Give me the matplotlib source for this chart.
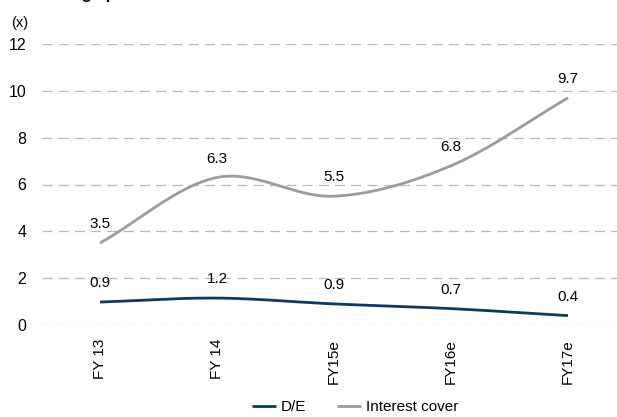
import numpy as np
import matplotlib
matplotlib.use("Agg")
import matplotlib.pyplot as plt

plt.rcParams['font.family'] = ['Liberation Sans Narrow', 'Liberation Sans', 'DejaVu Sans']

years = ["FY 13", "FY 14", "FY15e", "FY16e", "FY17e"]
debt_equity = [0.9, 1.2, 0.9, 0.7, 0.4]
interest_cover = [3.5, 6.3, 5.5, 6.8, 9.7]
# y positions where the curves are actually drawn (values are rounded in the labels)
debt_equity_line = [0.98, 1.15, 0.9, 0.7, 0.4]

NAVY = "#0c3768"
GREY = "#9c9c9c"


def smooth(y, n=40):
    """Catmull-Rom spline through evenly spaced points (like Excel's smoothed line)."""
    y = np.asarray(y, dtype=float)
    x = np.arange(len(y), dtype=float)
    px = np.concatenate([[2 * x[0] - x[1]], x, [2 * x[-1] - x[-2]]])
    py = np.concatenate([[2 * y[0] - y[1]], y, [2 * y[-1] - y[-2]]])
    xs, ys = [], []
    t = np.linspace(0, 1, n)
    for i in range(1, len(px) - 2):
        for p, out in ((px, xs), (py, ys)):
            p0, p1, p2, p3 = p[i - 1], p[i], p[i + 1], p[i + 2]
            seg = 0.5 * ((2 * p1) + (-p0 + p2) * t
                         + (2 * p0 - 5 * p1 + 4 * p2 - p3) * t ** 2
                         + (-p0 + 3 * p1 - 3 * p2 + p3) * t ** 3)
            out.append(seg if i == 1 else seg[1:])
    return np.concatenate(xs), np.concatenate(ys)


fig = plt.figure(figsize=(6.17, 4.17), dpi=100)
ax = fig.add_axes([41.5 / 617, 1 - 325 / 417, 585 / 617, 281 / 417])

x_de, y_de = smooth(debt_equity_line)
x_ic, y_ic = smooth(interest_cover)
ax.plot(x_de, y_de, color=NAVY, lw=2.0, label="D/E", solid_capstyle="butt")
ax.plot(x_ic, y_ic, color=GREY, lw=2.0, label="Interest cover", solid_capstyle="butt")

for i, v in enumerate(debt_equity):
    ax.annotate(f"{v:.1f}", (i, debt_equity_line[i]), xytext=(0, 13.5),
                textcoords="offset points", ha="center", va="center", fontsize=11)
for i, v in enumerate(interest_cover):
    ax.annotate(f"{v:.1f}", (i, v), xytext=(0, 13.5),
                textcoords="offset points", ha="center", va="center", fontsize=11)

ax.set_xlim(-0.5, 4.5)
ax.set_ylim(0, 12)
ax.set_yticks(range(0, 13, 2))
ax.set_xticks(range(len(years)))
ax.set_xticklabels(years, rotation=90, fontsize=11)
ax.tick_params(axis="y", labelsize=11.5, length=0, pad=11)
ax.tick_params(axis="x", length=0, pad=10)
ax.yaxis.grid(True, color="#b8b8b8", lw=0.9, dashes=(8, 5))
ax.set_axisbelow(True)
for s in ax.spines.values():
    s.set_visible(False)

fig.text(28 / 617, 1 - 23 / 417, "(x)", ha="right", va="center", fontsize=10.5)
# chart heading, mostly cut off at the top edge
fig.text(28 / 617, 1 + 1 / 417, "Leverage profile", ha="left", va="baseline",
         fontsize=12, fontweight="bold")

fig.legend(loc="center", bbox_to_anchor=(355 / 617, 1 - 407 / 417), ncol=2,
           frameon=False, fontsize=11, handlelength=1.6, handletextpad=0.3,
           columnspacing=2.0)

fig.savefig("out.png", dpi=100)
